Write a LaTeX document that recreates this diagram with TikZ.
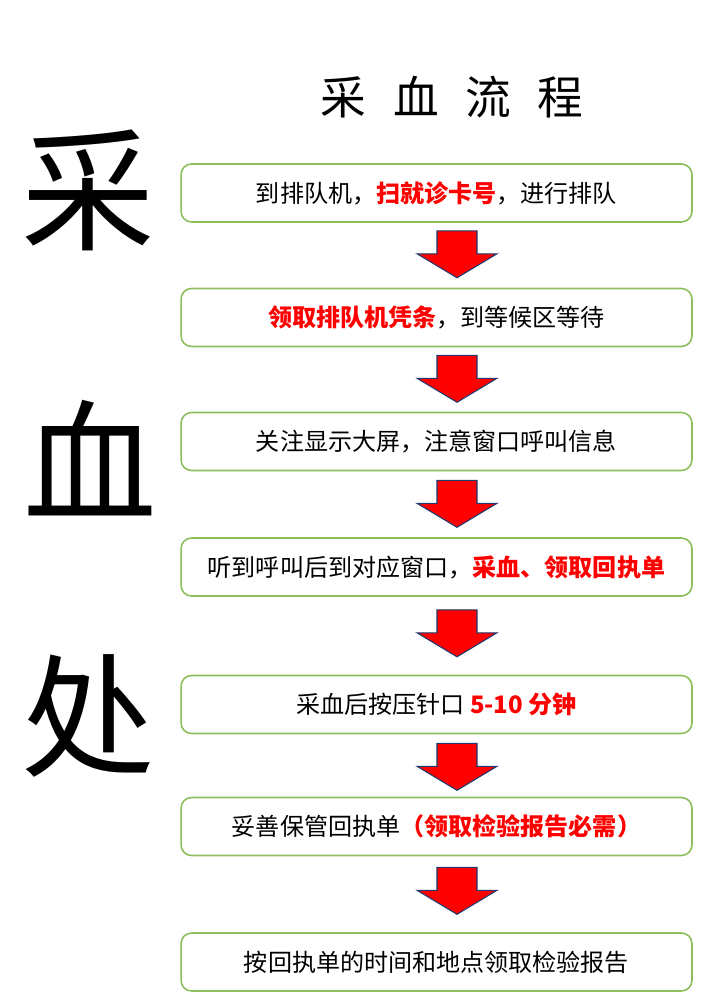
\documentclass[tikz,border=0pt]{standalone}
\usepackage{fontspec}
\setmainfont{Noto Sans CJK SC}
\usetikzlibrary{positioning, calc}
\definecolor{flowgreen}{HTML}{8CBF5C}
\definecolor{flowred}{HTML}{FF0000}
\definecolor{flownavy}{HTML}{1F3A6E}

\newcommand{\hlred}[1]{{\bfseries\color{flowred}#1}}

\begin{document}
\begin{tikzpicture}[
  x=0.02cm, y=-0.02cm,
  stepbox/.style={rectangle, draw=flowgreen, line width=0.9pt, rounded corners=6pt,
    minimum width=10.22cm, minimum height=1.16cm, inner sep=0pt,
    font=\fontsize{13.7}{16}\selectfont},
  bigchar/.style={inner sep=0pt, font=\fontsize{76}{76}\selectfont},
  downarrow/.pic={
    \filldraw[fill=flowred, draw=flownavy, line width=0.6pt]
      (-20,0) -- (20,0) -- (20,23) -- (40,23) -- (0,47) -- (-40,23) -- (-20,23) -- cycle;
  },
]
  \useasboundingbox (0,0) rectangle (700,1000);

  % title and side characters
  \node[inner sep=0pt, font=\fontsize{26}{26}\selectfont] (title) at (452,97) {采\hspace{0.58em}血\hspace{0.58em}流\hspace{0.58em}程};
  \node[bigchar] (c1) at (88,190) {采};
  \node[bigchar] (c2) at (90,458) {血};
  \node[bigchar] (c3) at (88,716) {处};

  % steps
  \node[stepbox] (b1) at (436.5,193) {到排队机，\hlred{扫就诊卡号}，进行排队};
  \node[stepbox] (b2) at (436.5,317.5) {\hlred{领取排队机凭条}，到等候区等待};
  \node[stepbox] (b3) at (436.5,441.5) {关注显示大屏，注意窗口呼叫信息};
  \node[stepbox] (b4) at (436.5,567) {听到呼叫后到对应窗口，\hlred{采血、领取回执单}};
  \node[stepbox] (b5) at (436.5,704.5) {采血后按压针口 \hlred{5-10 分钟}};
  \node[stepbox] (b6) at (436.5,826.5) {妥善保管回执单\hlred{（领取检验报告必需）}};
  \node[stepbox] (b7) at (436.5,962) {按回执单的时间和地点领取检验报告};

  % block arrows between steps
  \path (b1.south) ++(20.5,8) pic (a1) {downarrow};
  \path (b2.south) ++(20.5,8) pic (a2) {downarrow};
  \path (b3.south) ++(20.5,9) pic (a3) {downarrow};
  \path (b4.south) ++(20.5,13) pic (a4) {downarrow};
  \path (b5.south) ++(20.5,9) pic (a5) {downarrow};
  \path (b6.south) ++(20.5,11) pic (a6) {downarrow};
\end{tikzpicture}
\end{document}
